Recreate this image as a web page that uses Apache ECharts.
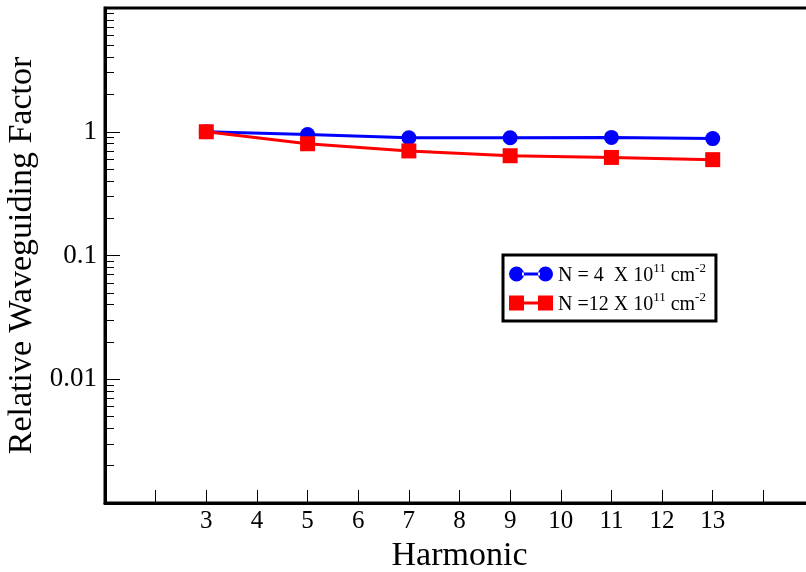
<!DOCTYPE html>
<html>
<head>
<meta charset="utf-8">
<script src="https://cdn.jsdelivr.net/npm/echarts@6/dist/echarts.min.js"></script>
<style>
  html, body { margin: 0; padding: 0; background: #fff; }
  #chart { width: 806px; height: 572px; }
</style>
</head>
<body>
<div id="chart"></div>
<script>
// harmonic order
var harmonics = [3, 5, 7, 9, 11, 13];
// relative waveguiding factor
var lowDensity = [1.0, 0.95, 0.895, 0.895, 0.90, 0.88];   // N = 4 x 10^11
var highDensity = [1.0, 0.80, 0.70, 0.64, 0.62, 0.595];   // N = 12 x 10^11
var xLabels = [3, 4, 5, 6, 7, 8, 9, 10, 11, 12, 13];
var yLabels = [1, 0.1, 0.01];

var seriesNames = ['N = 4  X 10^11 cm^-2', 'N =12 X 10^11 cm^-2'];

// minor ticks for the log axis (2..9 in every decade), in log10 units
var minorTicks = [];
for (var d = -3; d < 1; d++) {
    for (var k = 2; k <= 9; k++) {
        minorTicks.push(d + Math.log10(k));
    }
}

function pairs(xs, ys) {
    return xs.map(function (x, i) { return [x, ys[i]]; });
}

var chart = echarts.init(document.getElementById('chart'));
var font = 'Liberation Serif';

var option = {
    animation: false,
    grid: {
        left: 105, top: 8, width: 709, height: 495,
        outerBoundsMode: 'none',
        containLabel: false,
        show: true, borderColor: '#000', borderWidth: 3
    },
    legend: {
        orient: 'vertical',
        left: 503, top: 255,
        padding: [7, 10, 6, 6],
        itemGap: 5,
        itemWidth: 44, itemHeight: 15,
        borderColor: '#000', borderWidth: 3,
        backgroundColor: '#fff',
        data: [
            { name: seriesNames[0], icon: 'path://M0,7.5a7.5,7.5 0 1,0 15,0a7.5,7.5 0 1,0 -15,0z M13,6h18v3h-18z M29,7.5a7.5,7.5 0 1,0 15,0a7.5,7.5 0 1,0 -15,0z' },
            { name: seriesNames[1], icon: 'path://M0,0h15v15h-15z M14,6h16v3h-16z M29,0h15v15h-15z' }
        ],
        formatter: function (name) {
            if (name === seriesNames[0]) {
                return '{a|N = 4  X 10}{s|11}{a| cm}{s|-2}';
            }
            return '{a|N =12 X 10}{s|11}{a| cm}{s|-2}';
        },
        textStyle: {
            fontFamily: font, color: '#000',
            rich: {
                a: { fontFamily: font, fontSize: 20, color: '#000', lineHeight: 24, verticalAlign: 'bottom' },
                s: { fontFamily: font, fontSize: 13, color: '#000', lineHeight: 24, verticalAlign: 'top', padding: [0, 0, 10, 0] }
            }
        }
    },
    xAxis: {
        type: 'value',
        min: 1, max: 15, interval: 1,
        name: 'Harmonic',
        nameLocation: 'middle',
        nameGap: 32,
        nameTextStyle: { fontFamily: font, fontSize: 34, color: '#000' },
        axisLine: { onZero: false, lineStyle: { color: '#000', width: 3 } },
        axisTick: { inside: true, length: 13, lineStyle: { color: '#000', width: 1 } },
        axisLabel: {
            fontFamily: font, fontSize: 25, color: '#000', margin: 6,
            formatter: function (v) { return xLabels.indexOf(v) >= 0 ? String(v) : ''; }
        },
        splitLine: { show: false }
    },
    yAxis: [{
        type: 'log',
        min: 0.001, max: 10,
        name: 'Relative Waveguiding Factor',
        nameLocation: 'middle',
        nameGap: 62,
        nameTextStyle: { fontFamily: font, fontSize: 34, color: '#000' },
        axisLine: { onZero: false, lineStyle: { color: '#000', width: 3 } },
        axisTick: { inside: true, length: 15, lineStyle: { color: '#000', width: 1 } },
        axisLabel: {
            fontFamily: font, fontSize: 27, color: '#000', margin: 8,
            formatter: function (v) {
                for (var i = 0; i < yLabels.length; i++) {
                    if (Math.abs(v - yLabels[i]) < yLabels[i] * 1e-6) return String(yLabels[i]);
                }
                return '';
            }
        },
        splitLine: { show: false }
    }, {
        // only carries the minor ticks
        type: 'value',
        min: -3, max: 1,
        position: 'left',
        axisLine: { show: false, onZero: false },
        axisTick: { show: true, inside: true, length: 9, customValues: minorTicks, lineStyle: { color: '#000', width: 1 } },
        axisLabel: { show: false },
        splitLine: { show: false }
    }],
    series: [{
        name: seriesNames[0],
        type: 'line',
        data: pairs(harmonics, lowDensity),
        symbol: 'circle', symbolSize: 15,
        itemStyle: { color: '#0000ff' },
        lineStyle: { color: '#0000ff', width: 3 },
        z: 2
    }, {
        name: seriesNames[1],
        type: 'line',
        data: pairs(harmonics, highDensity),
        symbol: 'rect', symbolSize: 15,
        itemStyle: { color: '#ff0000' },
        lineStyle: { color: '#ff0000', width: 3 },
        z: 3
    }]
};

chart.setOption(option);
</script>
</body>
</html>
